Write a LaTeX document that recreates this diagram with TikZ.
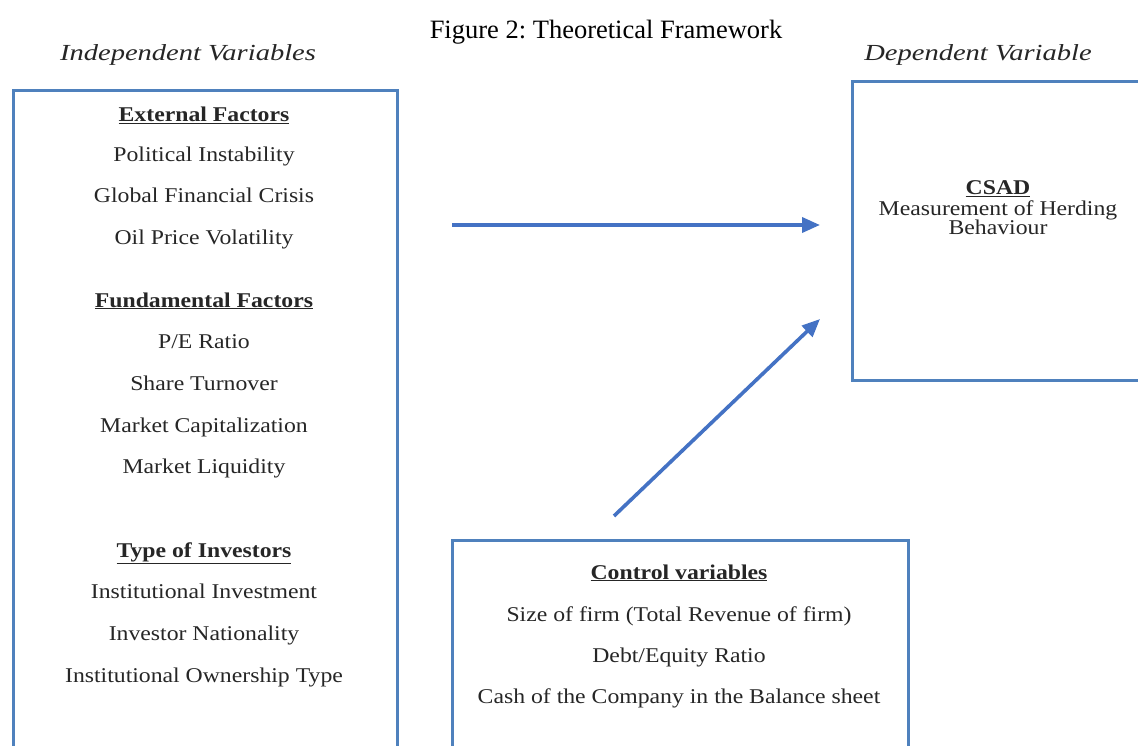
\documentclass[tikz,border=0pt]{standalone}
\usepackage{fontspec}
\setmainfont{Liberation Serif}
\newfontfamily\bodyfont{Liberation Serif}[FakeStretch=1.13]
\newfontfamily\italfont{Liberation Serif}[FakeStretch=1.24]
\usetikzlibrary{arrows.meta}
\frenchspacing
\definecolor{boxblue}{HTML}{4F81BD}
\definecolor{arrowblue}{HTML}{4472C4}
\tikzset{
  frame/.style={draw=boxblue, line width=3pt, inner sep=0pt, anchor=north west},
  body/.style={font=\bodyfont\fontsize{21}{24}\selectfont, anchor=base, inner sep=0pt, text=black!85},
  head/.style={font=\bodyfont\bfseries\fontsize{21}{24}\selectfont, anchor=base, inner sep=0pt, text=black!85},
  ital/.style={font=\italfont\itshape\fontsize{23}{26}\selectfont, anchor=base, inner sep=0pt, text=black!85},
  arr/.style={draw=arrowblue, line width=3.6pt, -{Triangle[length=18pt,width=15pt]}}
}
\begin{document}
\begin{tikzpicture}[x=1pt,y=-1pt]
\useasboundingbox (0,0) rectangle (1138,746);
\clip (0,0) rectangle (1138,746);
\fill[white] (0,0) rectangle (1138,746);

% title and column headings
\node[font=\fontsize{26.5}{30}\selectfont, anchor=base, inner sep=0pt] (title) at (606,39) {Figure 2: Theoretical Framework};
\node[ital] (indep) at (188,61) {Independent Variables};
\node[ital] (dep) at (978,61) {Dependent Variable};

% boxes
\node[frame, minimum width=384pt, minimum height=680pt] (left) at (12,89) {};
\node[frame, minimum width=310pt, minimum height=299pt] (csad) at (851,80) {};
\node[frame, minimum width=456pt, minimum height=230pt] (ctrl) at (451,539) {};

% left box text
\node[head] (ext) at (204,122) {\underline{External Factors}};
\node[body] (pol) at (204,162) {Political Instability};
\node[body] (gfc) at (204,203) {Global Financial Crisis};
\node[body] (oil) at (204,244) {Oil Price Volatility};
\node[head] (fund) at (204,307) {\underline{Fundamental Factors}};
\node[body] (pe) at (204,348) {P/E Ratio};
\node[body] (share) at (204,390) {Share Turnover};
\node[body] (mcap) at (204,432) {Market Capitalization};
\node[body] (mliq) at (204,473) {Market Liquidity};
\node[head] (type) at (204,557) {\underline{Type of Investors}};
\node[body] (inst) at (204,598) {Institutional Investment};
\node[body] (nat) at (204,640) {Investor Nationality};
\node[body] (own) at (204,682) {Institutional Ownership Type};

% CSAD box text
\node[head] (csadh) at (998,195) {\underline{CSAD}};
\node[body] (csad1) at (998,215.5) {Measurement of Herding};
\node[body] (csad2) at (998,235) {Behaviour};

% control box text
\node[head] (ctrlh) at (679,579) {\underline{Control variables}};
\node[body] (size) at (679,621) {Size of firm (Total Revenue of firm)};
\node[body] (debt) at (679,662) {Debt/Equity Ratio};
\node[body] (cash) at (679,703) {Cash of the Company in the Balance sheet};

% arrows
\coordinate (a1s) at (452,225);
\coordinate (a1e) at (820,225);
\coordinate (a2s) at (614,516);
\coordinate (a2e) at (820,319);
\draw[arr] (a1s) -- (a1e);
\draw[arr] (a2s) -- (a2e);
\end{tikzpicture}
\end{document}
